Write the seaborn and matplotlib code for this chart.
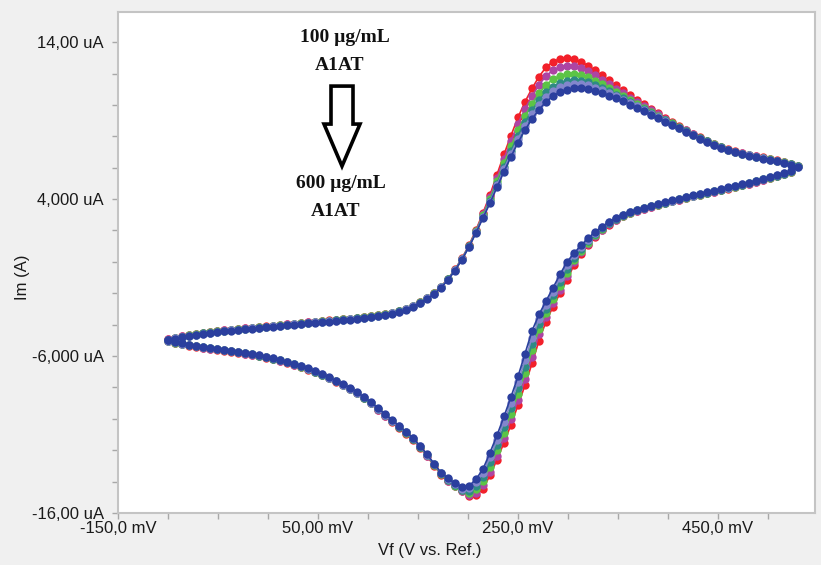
import matplotlib
matplotlib.use("Agg")
import matplotlib.pyplot as plt
import seaborn as sns
import pandas as pd
from matplotlib.patches import FancyArrow
from matplotlib.ticker import MultipleLocator, FixedLocator, FixedFormatter

# ---------------- data ----------------
# forward sweep potentials (mV), -100 -> 530
potential_fwd = [-100, -93, -86, -79, -72, -65, -58, -51, -44, -37, -30, -23, -16, -9, -2,
                 5, 12, 19, 26, 33, 40, 47, 54, 61, 68, 75, 82, 89, 96, 103, 110, 117, 124,
                 131, 138, 145, 152, 159, 166, 173, 180, 187, 194, 201, 208, 215, 222, 229,
                 236, 243, 250, 257, 264, 271, 278, 285, 292, 299, 306, 313, 320, 327, 334,
                 341, 348, 355, 362, 369, 376, 383, 390, 397, 404, 411, 418, 425, 432, 439,
                 446, 453, 460, 467, 474, 481, 488, 495, 502, 509, 516, 523, 530]
# reverse sweep potentials (mV), 523 -> -100
potential_rev = potential_fwd[::-1][1:]

concentrations = ["100 µg/mL", "200 µg/mL", "300 µg/mL", "400 µg/mL", "500 µg/mL", "600 µg/mL"]
colors = ["#f2202a", "#ad44a3", "#5cc446", "#2e8a84", "#8286cc", "#2b3f9e"]

# currents (uA), forward sweep
i100_fwd = [-4.93, -4.83, -4.74, -4.66, -4.59, -4.52, -4.46, -4.41, -4.36, -4.31, -4.27, -4.23, -4.19, -4.15, -4.11,
            -4.06, -4.02, -3.98, -3.93, -3.89, -3.85, -3.81, -3.77, -3.73, -3.69, -3.65, -3.61, -3.56, -3.51, -3.45,
            -3.39, -3.32, -3.23, -3.12, -2.98, -2.79, -2.55, -2.28, -1.98, -1.58, -1.08, -0.48,
            0.23, 1.05, 2.03, 3.12, 4.27, 5.55, 6.85, 8.05, 9.20, 10.20, 11.05, 11.80, 12.40, 12.75, 12.94, 12.98,
            12.91, 12.75, 12.51, 12.20, 11.88, 11.56, 11.24, 10.92, 10.62, 10.33, 10.03, 9.74, 9.46, 9.19, 8.92,
            8.66, 8.41, 8.16, 7.93,
            7.71, 7.51, 7.33, 7.17, 7.04, 6.93, 6.83, 6.74, 6.65, 6.56, 6.47, 6.37, 6.25, 6.12]
i200_fwd = [-4.94, -4.84, -4.75, -4.67, -4.60, -4.53, -4.47, -4.42, -4.37, -4.32, -4.28, -4.24, -4.20, -4.16, -4.12,
            -4.07, -4.03, -3.99, -3.94, -3.90, -3.86, -3.82, -3.78, -3.74, -3.70, -3.66, -3.62, -3.57, -3.52, -3.46,
            -3.40, -3.33, -3.24, -3.13, -2.99, -2.80, -2.56, -2.29, -1.99, -1.59, -1.09, -0.49,
            0.21, 1.03, 1.99, 3.04, 4.14, 5.35, 6.58, 7.71, 8.80, 9.75, 10.56, 11.28, 11.85, 12.20, 12.41, 12.48,
            12.45, 12.33, 12.14, 11.88, 11.60, 11.32, 11.04, 10.75, 10.47, 10.20, 9.92, 9.65, 9.39, 9.13, 8.87,
            8.62, 8.38, 8.14, 7.91,
            7.69, 7.49, 7.31, 7.15, 7.02, 6.91, 6.81, 6.72, 6.63, 6.54, 6.45, 6.35, 6.23, 6.10]
i300_fwd = [-4.95, -4.85, -4.76, -4.68, -4.61, -4.54, -4.48, -4.43, -4.38, -4.33, -4.29, -4.25, -4.21, -4.17, -4.13,
            -4.08, -4.04, -4.00, -3.95, -3.91, -3.87, -3.83, -3.79, -3.75, -3.71, -3.67, -3.63, -3.58, -3.53, -3.47,
            -3.41, -3.34, -3.25, -3.14, -3.00, -2.81, -2.57, -2.30, -2.00, -1.60, -1.10, -0.50,
            0.20, 1.00, 1.94, 2.96, 4.00, 5.14, 6.29, 7.36, 8.38, 9.28, 10.06, 10.73, 11.28, 11.63, 11.86, 11.96,
            11.97, 11.89, 11.75, 11.54, 11.31, 11.07, 10.82, 10.56, 10.31, 10.07, 9.81, 9.56, 9.31, 9.06, 8.82,
            8.58, 8.34, 8.11, 7.89,
            7.68, 7.48, 7.30, 7.14, 7.01, 6.90, 6.80, 6.71, 6.62, 6.53, 6.44, 6.34, 6.22, 6.09]
i400_fwd = [-4.97, -4.87, -4.78, -4.70, -4.63, -4.56, -4.50, -4.45, -4.40, -4.35, -4.31, -4.27, -4.23, -4.19, -4.15,
            -4.10, -4.06, -4.02, -3.97, -3.93, -3.89, -3.85, -3.81, -3.77, -3.73, -3.69, -3.65, -3.60, -3.55, -3.49,
            -3.43, -3.36, -3.27, -3.16, -3.02, -2.83, -2.59, -2.32, -2.02, -1.62, -1.12, -0.52,
            0.18, 0.98, 1.90, 2.89, 3.90, 4.97, 6.06, 7.08, 8.05, 8.90, 9.65, 10.29, 10.82, 11.17, 11.41, 11.54,
            11.58, 11.54, 11.43, 11.26, 11.07, 10.87, 10.65, 10.42, 10.19, 9.96, 9.72, 9.48, 9.24, 9.01, 8.78,
            8.54, 8.32, 8.09, 7.87,
            7.67, 7.47, 7.29, 7.13, 7.00, 6.89, 6.79, 6.70, 6.61, 6.52, 6.43, 6.33, 6.21, 6.08]
i500_fwd = [-4.98, -4.88, -4.79, -4.71, -4.64, -4.57, -4.51, -4.46, -4.41, -4.36, -4.32, -4.28, -4.24, -4.20, -4.16,
            -4.11, -4.07, -4.03, -3.98, -3.94, -3.90, -3.86, -3.82, -3.78, -3.74, -3.70, -3.66, -3.61, -3.56, -3.50,
            -3.44, -3.37, -3.28, -3.17, -3.03, -2.84, -2.60, -2.33, -2.03, -1.63, -1.13, -0.53,
            0.17, 0.97, 1.88, 2.85, 3.83, 4.87, 5.92, 6.90, 7.84, 8.67, 9.39, 10.02, 10.53, 10.88, 11.14, 11.28,
            11.34, 11.32, 11.24, 11.10, 10.93, 10.74, 10.54, 10.33, 10.11, 9.90, 9.66, 9.43, 9.21, 8.98, 8.75,
            8.52, 8.30, 8.08, 7.86,
            7.66, 7.46, 7.28, 7.12, 6.99, 6.88, 6.78, 6.69, 6.60, 6.51, 6.42, 6.32, 6.20, 6.07]
i600_fwd = [-5.00, -4.90, -4.81, -4.73, -4.66, -4.59, -4.53, -4.48, -4.43, -4.38, -4.34, -4.30, -4.26, -4.22, -4.18,
            -4.13, -4.09, -4.05, -4.00, -3.96, -3.92, -3.88, -3.84, -3.80, -3.76, -3.72, -3.68, -3.63, -3.58, -3.52,
            -3.46, -3.39, -3.30, -3.19, -3.05, -2.86, -2.62, -2.35, -2.05, -1.65, -1.15, -0.55,
            0.15, 0.95, 1.85, 2.80, 3.75, 4.75, 5.75, 6.70, 7.60, 8.40, 9.10, 9.70, 10.20, 10.55, 10.82, 10.98,
            11.06, 11.07, 11.01, 10.90, 10.76, 10.60, 10.42, 10.22, 10.02, 9.82, 9.60, 9.38, 9.16, 8.94, 8.72,
            8.50, 8.28, 8.06, 7.85,
            7.64, 7.44, 7.26, 7.10, 6.97, 6.86, 6.76, 6.67, 6.58, 6.49, 6.40, 6.30, 6.18, 6.05]

# currents (uA), reverse sweep
i100_rev = [5.73, 5.59, 5.46, 5.34, 5.23, 5.11, 4.98, 4.88, 4.77, 4.67, 4.57, 4.47, 4.37, 4.27, 4.17, 4.07,
            3.96, 3.85, 3.74, 3.63, 3.51, 3.39, 3.26, 3.11,
            2.90, 2.66, 2.38, 2.00, 1.56, 1.05, 0.48, -0.20, -1.14, -2.01, -2.86, -3.80, -5.02, -6.47, -7.86,
            -9.13, -10.37, -11.52,
            -12.60, -13.60, -14.45, -14.88, -14.90, -14.60, -14.30, -13.95, -13.55, -12.98, -12.38,
            -11.84, -11.34, -10.94, -10.57, -10.20, -9.82, -9.44,
            -9.02, -8.69, -8.38, -8.12, -7.87, -7.64, -7.42, -7.22, -7.03, -6.86, -6.70, -6.56, -6.43, -6.31,
            -6.20, -6.10, -6.01, -5.93, -5.86, -5.79, -5.72, -5.66, -5.60, -5.54, -5.48, -5.41, -5.34, -5.26,
            -5.17, -5.07]
i200_rev = [5.74, 5.60, 5.47, 5.35, 5.24, 5.12, 4.99, 4.89, 4.78, 4.68, 4.58, 4.48, 4.38, 4.28, 4.18, 4.08,
            3.97, 3.86, 3.75, 3.64, 3.52, 3.40, 3.27, 3.12,
            2.92, 2.69, 2.41, 2.05, 1.63, 1.14, 0.60, -0.02, -0.91, -1.77, -2.62, -3.50, -4.61, -6.06, -7.49,
            -8.78, -10.02, -11.21,
            -12.35, -13.40, -14.20, -14.70, -14.84, -14.62, -14.28, -13.93, -13.52, -12.95, -12.35,
            -11.81, -11.31, -10.91, -10.54, -10.17, -9.79, -9.41,
            -9.00, -8.67, -8.36, -8.10, -7.85, -7.62, -7.40, -7.20, -7.01, -6.84, -6.68, -6.54, -6.41, -6.29,
            -6.18, -6.08, -5.99, -5.91, -5.84, -5.77, -5.70, -5.64, -5.58, -5.52, -5.46, -5.39, -5.32, -5.24,
            -5.15, -5.05]
i300_rev = [5.75, 5.61, 5.48, 5.36, 5.25, 5.13, 5.00, 4.90, 4.79, 4.69, 4.59, 4.49, 4.39, 4.29, 4.19, 4.09,
            3.98, 3.87, 3.76, 3.65, 3.53, 3.41, 3.28, 3.13,
            2.94, 2.71, 2.45, 2.10, 1.69, 1.23, 0.71, 0.12, -0.68, -1.53, -2.38, -3.23, -4.25, -5.64, -7.09,
            -8.41, -9.67, -10.88,
            -12.00, -13.05, -13.95, -14.45, -14.70, -14.55, -14.25, -13.90, -13.50, -12.93, -12.33,
            -11.79, -11.29, -10.89, -10.52, -10.15, -9.77, -9.39,
            -8.99, -8.66, -8.35, -8.09, -7.84, -7.61, -7.39, -7.19, -7.00, -6.83, -6.67, -6.53, -6.40, -6.28,
            -6.17, -6.07, -5.98, -5.90, -5.83, -5.76, -5.69, -5.63, -5.57, -5.51, -5.45, -5.38, -5.31, -5.23,
            -5.14, -5.04]
i400_rev = [5.77, 5.63, 5.50, 5.38, 5.27, 5.15, 5.02, 4.92, 4.81, 4.71, 4.61, 4.51, 4.41, 4.31, 4.21, 4.11,
            4.00, 3.89, 3.78, 3.67, 3.55, 3.43, 3.30, 3.15,
            2.96, 2.74, 2.48, 2.15, 1.76, 1.32, 0.82, 0.27, -0.46, -1.28, -2.13, -2.99, -3.95, -5.23, -6.68,
            -8.04, -9.31, -10.54,
            -11.68, -12.75, -13.70, -14.25, -14.57, -14.52, -14.22, -13.87, -13.47, -12.90, -12.30,
            -11.77, -11.27, -10.87, -10.50, -10.13, -9.75, -9.37,
            -8.98, -8.65, -8.34, -8.08, -7.83, -7.60, -7.38, -7.18, -6.99, -6.82, -6.66, -6.52, -6.39, -6.27,
            -6.16, -6.06, -5.97, -5.89, -5.82, -5.75, -5.68, -5.62, -5.56, -5.50, -5.44, -5.37, -5.30, -5.22,
            -5.13, -5.03]
i500_rev = [5.78, 5.64, 5.51, 5.39, 5.28, 5.16, 5.03, 4.93, 4.82, 4.72, 4.62, 4.52, 4.42, 4.32, 4.22, 4.12,
            4.01, 3.90, 3.79, 3.68, 3.56, 3.44, 3.31, 3.16,
            2.98, 2.77, 2.52, 2.20, 1.83, 1.41, 0.94, 0.41, -0.23, -1.04, -1.89, -2.74, -3.65, -4.82, -6.27,
            -7.67, -8.96, -10.19,
            -11.36, -12.45, -13.45, -14.05, -14.43, -14.47, -14.18, -13.84, -13.45, -12.88, -12.28,
            -11.75, -11.25, -10.85, -10.48, -10.11, -9.73, -9.35,
            -8.97, -8.64, -8.33, -8.07, -7.82, -7.59, -7.37, -7.17, -6.98, -6.81, -6.65, -6.51, -6.38, -6.26,
            -6.15, -6.05, -5.96, -5.88, -5.81, -5.74, -5.67, -5.61, -5.55, -5.49, -5.43, -5.36, -5.29, -5.21,
            -5.12, -5.02]
i600_rev = [5.80, 5.66, 5.53, 5.41, 5.30, 5.18, 5.05, 4.95, 4.84, 4.74, 4.64, 4.54, 4.44, 4.34, 4.24, 4.14,
            4.03, 3.92, 3.81, 3.70, 3.58, 3.46, 3.33, 3.18,
            3.00, 2.79, 2.55, 2.25, 1.90, 1.50, 1.05, 0.55, 0.00, -0.80, -1.65, -2.50, -3.35, -4.40, -5.85,
            -7.30, -8.60, -9.85,
            -11.05, -12.15, -13.20, -13.85, -14.28, -14.34, -14.12, -13.80, -13.42, -12.85, -12.25,
            -11.72, -11.22, -10.82, -10.45, -10.08, -9.70, -9.32,
            -8.95, -8.62, -8.31, -8.05, -7.80, -7.57, -7.35, -7.15, -6.96, -6.79, -6.63, -6.49, -6.36, -6.24,
            -6.13, -6.03, -5.94, -5.86, -5.79, -5.72, -5.65, -5.59, -5.53, -5.47, -5.41, -5.34, -5.27, -5.19,
            -5.10, -5.00]

x_ticks = [-150, 50, 250, 450]
x_tick_labels = ["-150,0 mV", "50,00 mV", "250,0 mV", "450,0 mV"]
y_ticks = [-16, -6, 4, 14]
y_tick_labels = ["-16,00 uA", "-6,000 uA", "4,000 uA", "14,00 uA"]

fwd_series = [i100_fwd, i200_fwd, i300_fwd, i400_fwd, i500_fwd, i600_fwd]
rev_series = [i100_rev, i200_rev, i300_rev, i400_rev, i500_rev, i600_rev]
for f, r in zip(fwd_series, rev_series):
    assert len(f) == len(potential_fwd) and len(r) == len(potential_rev)

rows = []
for conc, f, r in zip(concentrations, fwd_series, rev_series):
    E = potential_fwd + potential_rev
    I = f + r
    for k, (e, i) in enumerate(zip(E, I)):
        rows.append({"E": e, "I": i, "conc": conc, "step": k})
df = pd.DataFrame(rows)

# ---------------- figure ----------------
sns.set_theme(style="white")
plt.rcParams["font.family"] = ["Liberation Sans", "DejaVu Sans"]

W, H = 821, 565
fig = plt.figure(figsize=(W / 100, H / 100), dpi=100, facecolor="#f0f0f0")
ax = fig.add_axes([118 / W, 1 - 513 / H, (815 - 118) / W, (513 - 12) / H])
ax.set_facecolor("white")

sns.lineplot(data=df, x="E", y="I", hue="conc", hue_order=concentrations,
             palette=dict(zip(concentrations, colors)), sort=False, estimator=None,
             marker="o", markersize=6.0, markeredgewidth=0, linewidth=1.2,
             legend=False, ax=ax)

ax.set_xlim(-150, 547)
ax.set_ylim(-16, 15.92)
ax.xaxis.set_major_locator(FixedLocator(x_ticks))
ax.xaxis.set_major_formatter(FixedFormatter(x_tick_labels))
ax.xaxis.set_minor_locator(MultipleLocator(50))
ax.yaxis.set_major_locator(FixedLocator(y_ticks))
ax.yaxis.set_major_formatter(FixedFormatter(y_tick_labels))
ax.yaxis.set_minor_locator(MultipleLocator(2))
ax.tick_params(which="both", direction="out", length=4, width=1, color="#a8a8a8",
               labelsize=12, labelcolor="#1a1a1a", bottom=True, left=True)
ax.tick_params(axis="y", pad=6)
ax.tick_params(axis="x", pad=2)
ax.set_xlabel("")
ax.set_ylabel("")
for side, sp in ax.spines.items():
    sp.set_color("#c4c4c4")
    sp.set_linewidth(1.5)

fig.text(430 / W, 1 - 551 / H, "Vf (V vs. Ref.)", ha="center", va="center",
         fontsize=12, color="#1a1a1a")
fig.text(22 / W, 1 - 277 / H, "Im (A)", ha="center", va="center", rotation=90,
         fontsize=12, color="#1a1a1a")

# annotation
serif = ["Liberation Serif", "DejaVu Serif"]
fig.text(345 / W, 1 - 37 / H, "100 µg/mL", ha="center", va="center", fontsize=14,
         fontweight="bold", family=serif, color="#111111")
fig.text(340 / W, 1 - 65 / H, "A1AT", ha="center", va="center", fontsize=14,
         fontweight="bold", family=serif, color="#111111")
fig.text(341 / W, 1 - 184 / H, "600 µg/mL", ha="center", va="center", fontsize=14,
         fontweight="bold", family=serif, color="#111111")
fig.text(336 / W, 1 - 211 / H, "A1AT", ha="center", va="center", fontsize=14,
         fontweight="bold", family=serif, color="#111111")

arrow = FancyArrow(74, 11.2, 0, -5.1, width=22, head_width=36, head_length=2.68,
                   length_includes_head=True, facecolor="white", edgecolor="black",
                   linewidth=2.6, zorder=5)
ax.add_patch(arrow)

fig.savefig("out.png", dpi=100, facecolor=fig.get_facecolor())
